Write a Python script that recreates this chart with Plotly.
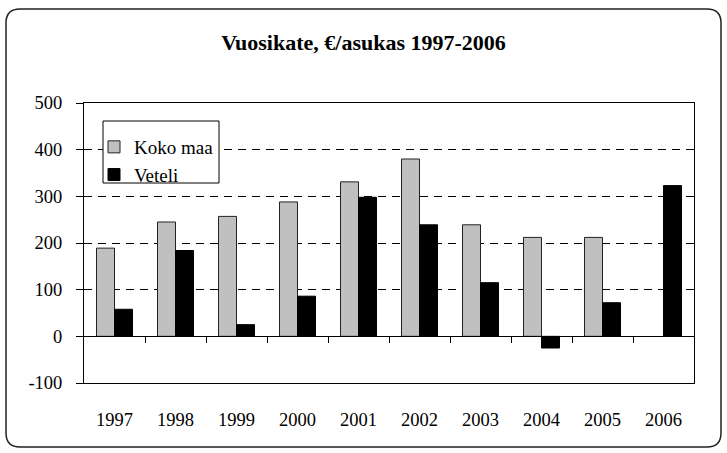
import plotly.graph_objects as go
import numpy as np

years = ["1997", "1998", "1999", "2000", "2001", "2002", "2003", "2004", "2005", "2006"]
koko_maa = [189, 245, 257, 288, 331, 380, 239, 212, 212, None]
veteli = [58, 184, 25, 86, 298, 239, 115, -25, 72, 323]
y_ticks = [-100, 0, 100, 200, 300, 400, 500]

W, H = 727, 453
L, R, T, B = 84, 33, 103, 70
PW, PH = W - L - R, H - T - B
FONT = "Liberation Serif"
ymin, ymax = y_ticks[0], y_ticks[-1]
n = len(years)

fig = go.Figure()
fig.add_trace(go.Bar(name="Koko maa", x=years, y=koko_maa,
                     marker=dict(color="#C0C0C0", line=dict(color="#222222", width=1))))
fig.add_trace(go.Bar(name="Veteli", x=years, y=veteli,
                     marker=dict(color="#000000", line=dict(color="#000000", width=1))))
# helper trace so the zero-crossing axis exists
fig.add_trace(go.Scatter(x=list(range(n)), y=[None] * n, xaxis="x2", mode="lines",
                         showlegend=False, hoverinfo="skip"))

def X(px):
    return (px - L) / PW

def Y(py):
    return (H - B - py) / PH

# rounded outer border
x0, x1, y0, y1, r = 6, 721, 9, 447, 14
path = (f"M {X(x0+r)} {Y(y0)} L {X(x1-r)} {Y(y0)} Q {X(x1)} {Y(y0)} {X(x1)} {Y(y0+r)} "
        f"L {X(x1)} {Y(y1-r)} Q {X(x1)} {Y(y1)} {X(x1-r)} {Y(y1)} "
        f"L {X(x0+r)} {Y(y1)} Q {X(x0)} {Y(y1)} {X(x0)} {Y(y1-r)} "
        f"L {X(x0)} {Y(y0+r)} Q {X(x0)} {Y(y0)} {X(x0+r)} {Y(y0)} Z")
fig.add_shape(type="path", path=path, xref="paper", yref="paper",
              line=dict(color="#222222", width=1.5), layer="below")
# legend frame
fig.add_shape(type="rect", xref="paper", yref="paper",
              x0=X(103), x1=X(219), y0=Y(183), y1=Y(121),
              line=dict(color="black", width=1), fillcolor="white", layer="above")

fig.update_layout(
    width=W, height=H,
    margin=dict(l=L, r=R, t=T, b=B, autoexpand=False),
    paper_bgcolor="white", plot_bgcolor="white",
    font=dict(family=FONT, size=18, color="black"),
    title=dict(text="<b>Vuosikate, €/asukas 1997-2006</b>", x=0.5, xref="container",
               y=1 - 42 / H, yref="container", yanchor="middle",
               font=dict(family=FONT, size=22, color="black")),
    barmode="group", bargap=0.41, bargroupgap=0,
    showlegend=True,
    legend=dict(x=X(94), y=Y(128), xanchor="left", yanchor="top",
                bgcolor="rgba(0,0,0,0)", borderwidth=0,
                font=dict(family=FONT, size=19, color="black"),
                tracegroupgap=0, itemwidth=30),
    xaxis=dict(type="category", categoryarray=years, range=[-0.5, n - 0.5],
               showgrid=False, showline=True, mirror=True, linecolor="black", linewidth=1,
               ticks="", ticklabelstandoff=20, tickfont=dict(family=FONT, size=18.5),
               automargin=False),
    xaxis2=dict(overlaying="x", anchor="free", position=(0 - ymin) / (ymax - ymin),
                range=[-0.5, n - 0.5], tickvals=list(np.arange(n - 1) + 0.5),
                showticklabels=False, ticks="outside", ticklen=6, tickcolor="black",
                showgrid=False, showline=True, linecolor="black", linewidth=1,
                zeroline=False, automargin=False),
    yaxis=dict(range=[ymin, ymax], tickvals=y_ticks, ticktext=[str(v) for v in y_ticks],
               showgrid=True, gridcolor="black",
               griddash="8px,6px", gridwidth=1, showline=True, mirror=True,
               linecolor="black", linewidth=1, ticks="outside", ticklen=7,
               tickcolor="black", zeroline=True, zerolinecolor="black", zerolinewidth=1,
               ticklabelstandoff=10, tickfont=dict(family=FONT, size=18.5), automargin=False),
)

fig.write_html("out.html", config={"displayModeBar": False},
               post_script="document.body.style.margin='0px';")
